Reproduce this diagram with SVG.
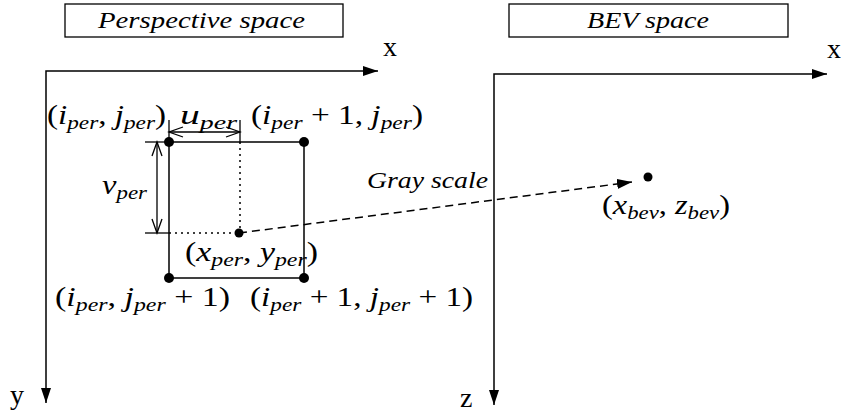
<svg xmlns="http://www.w3.org/2000/svg" width="841" height="414" viewBox="0 0 841 414">
<style>
.ln{fill:none;stroke:#000;stroke-width:1.5}
.thin{fill:none;stroke:#000;stroke-width:1.3}
.dot{fill:#000}
.dash{fill:none;stroke:#000;stroke-width:1.5;stroke-dasharray:8 5}
.dotted{fill:none;stroke:#000;stroke-width:1.5;stroke-dasharray:2 4}
text{font-family:'Liberation Serif','Times New Roman',Tinos,'DejaVu Serif',serif}
.title{font-style:italic;font-size:23px}
.ax{font-size:28px}
.m{font-size:27px}
.v{font-style:italic}
.s{font-style:italic;font-size:19px}
</style>
<defs>
<marker id="fill" markerUnits="userSpaceOnUse" markerWidth="16" markerHeight="12" refX="15" refY="5" orient="auto-start-reverse">
<path d="M0,0 L15,5 L0,10 Z" fill="#000"/>
</marker>
<marker id="open" markerUnits="userSpaceOnUse" markerWidth="18" markerHeight="14" refX="15" refY="6" orient="auto-start-reverse">
<path d="M1,1 L15,6 L1,11" fill="none" stroke="#000" stroke-width="1.3"/>
</marker>
</defs>
<rect width="841" height="414" fill="#fff"/>

<g id="perspective-title">
<rect x="65" y="4" width="278" height="33" class="thin"/>
<text x="98" y="28" class="title" textLength="207" lengthAdjust="spacingAndGlyphs">Perspective space</text>
</g>
<g id="bev-title">
<rect x="509" y="4" width="279" height="33" class="thin"/>
<text x="587" y="28" class="title" textLength="122" lengthAdjust="spacingAndGlyphs">BEV space</text>
</g>

<g id="connectors">
<polyline points="378,71 46,71 46,403" class="ln" marker-start="url(#fill)" marker-end="url(#fill)"/>
<polyline points="827,74 494,74 494,405" class="ln" marker-start="url(#fill)" marker-end="url(#fill)"/>
<line x1="239" y1="233" x2="632" y2="182" class="dash" marker-end="url(#fill)"/>
<line x1="240" y1="142" x2="240" y2="233" class="dotted"/>
<line x1="169" y1="233" x2="239" y2="233" class="dotted"/>
<line x1="169" y1="120" x2="169" y2="142" class="thin"/>
<line x1="240" y1="120" x2="240" y2="143" class="thin"/>
<line x1="169" y1="132" x2="240" y2="132" class="thin" marker-start="url(#open)" marker-end="url(#open)"/>
<line x1="145" y1="142" x2="169" y2="142" class="thin"/>
<line x1="145" y1="233" x2="169" y2="233" class="thin"/>
<line x1="157" y1="142" x2="157" y2="233" class="thin" marker-start="url(#open)" marker-end="url(#open)"/>
</g>

<g id="axis-labels">
<text x="383" y="56" class="ax">x</text>
<text x="827" y="58" class="ax">x</text>
<text x="10" y="404" class="ax">y</text>
<text x="460" y="407" class="ax">z</text>
</g>

<g id="pixel-cell">
<rect x="169" y="142" width="135" height="136" class="ln"/>
<circle cx="169" cy="142" r="5" class="dot"/>
<circle cx="304" cy="142" r="5" class="dot"/>
<circle cx="169" cy="278" r="5" class="dot"/>
<circle cx="304" cy="278" r="5" class="dot"/>
<circle cx="239" cy="233" r="4.5" class="dot"/>
</g>

<g id="bev-point">
<circle cx="648" cy="177" r="4.5" class="dot"/>
</g>

<g id="labels">
<text x="47" y="124" class="m" textLength="119" lengthAdjust="spacingAndGlyphs">(<tspan class="v">i</tspan><tspan class="s" dy="5">per</tspan><tspan dy="-5">, </tspan><tspan class="v">j</tspan><tspan class="s" dy="5">per</tspan><tspan dy="-5">)</tspan></text>
<text x="180" y="124" class="m" textLength="57" lengthAdjust="spacingAndGlyphs"><tspan class="v">u</tspan><tspan class="s" dy="5">per</tspan></text>
<text x="251" y="124" class="m" textLength="172" lengthAdjust="spacingAndGlyphs">(<tspan class="v">i</tspan><tspan class="s" dy="5">per</tspan><tspan dy="-5"> + 1, </tspan><tspan class="v">j</tspan><tspan class="s" dy="5">per</tspan><tspan dy="-5">)</tspan></text>
<text x="102" y="194" class="m" textLength="45" lengthAdjust="spacingAndGlyphs"><tspan class="v">v</tspan><tspan class="s" dy="5">per</tspan></text>
<text x="185" y="261" class="m" textLength="133" lengthAdjust="spacingAndGlyphs">(<tspan class="v">x</tspan><tspan class="s" dy="5">per</tspan><tspan dy="-5">, </tspan><tspan class="v">y</tspan><tspan class="s" dy="5">per</tspan><tspan dy="-5">)</tspan></text>
<text x="55" y="306" class="m" textLength="175" lengthAdjust="spacingAndGlyphs">(<tspan class="v">i</tspan><tspan class="s" dy="5">per</tspan><tspan dy="-5">, </tspan><tspan class="v">j</tspan><tspan class="s" dy="5">per</tspan><tspan dy="-5"> + 1)</tspan></text>
<text x="250" y="306" class="m" textLength="223" lengthAdjust="spacingAndGlyphs">(<tspan class="v">i</tspan><tspan class="s" dy="5">per</tspan><tspan dy="-5"> + 1, </tspan><tspan class="v">j</tspan><tspan class="s" dy="5">per</tspan><tspan dy="-5"> + 1)</tspan></text>
<text x="602" y="214" class="m" textLength="128" lengthAdjust="spacingAndGlyphs">(<tspan class="v">x</tspan><tspan class="s" dy="5">bev</tspan><tspan dy="-5">, </tspan><tspan class="v">z</tspan><tspan class="s" dy="5">bev</tspan><tspan dy="-5">)</tspan></text>
<text x="367" y="188" class="title" font-size="24" textLength="121" lengthAdjust="spacingAndGlyphs">Gray scale</text>
</g>
</svg>
